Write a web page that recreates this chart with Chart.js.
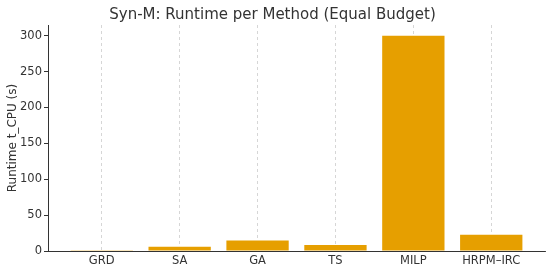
<!DOCTYPE html>
<html>
<head>
<meta charset="utf-8">
<script src="https://cdn.jsdelivr.net/npm/chart.js@4.4.0/dist/chart.umd.min.js"></script>
<style>
  html, body { margin: 0; padding: 0; background: #fff; }
  #wrap { width: 550px; height: 271px; }
</style>
</head>
<body>
<div id="wrap"><canvas id="runtimeChart" width="550" height="271"></canvas></div>
<script>
// データ
const methods = ['GRD', 'SA', 'GA', 'TS', 'MILP', 'HRPM\u2013IRC'];
const runtimes = [0.2, 6, 14.5, 8.5, 300, 22.5];
const yTicks = [0, 50, 100, 150, 200, 250, 300];

const FONT = '"DejaVu Sans", sans-serif';

const ctx = document.getElementById('runtimeChart').getContext('2d');
new Chart(ctx, {
    type: 'bar',
    data: {
        datasets: [{
            data: runtimes.map((v, i) => ({ x: i, y: v })),
            backgroundColor: '#e69f00',
            borderWidth: 0,
            categoryPercentage: 1.0,
            barPercentage: 0.8
        }]
    },
    options: {
        responsive: false,
        animation: false,
        layout: { padding: { left: 0, right: 5, top: 0, bottom: 0 } },
        plugins: {
            legend: { display: false },
            tooltip: { enabled: false },
            title: {
                display: true,
                text: 'Syn-M: Runtime per Method (Equal Budget)',
                color: '#333',
                font: { family: FONT, size: 15, weight: 'normal' },
                padding: { top: 6, bottom: 1 }
            }
        },
        scales: {
            x: {
                type: 'linear',
                min: -0.69,
                max: 5.69,
                offset: false,
                z: 1,
                afterBuildTicks: (axis) => {
                    axis.ticks = methods.map((m, i) => ({ value: i }));
                },
                afterFit: (axis) => { axis.height = 20; },
                ticks: {
                    color: '#333',
                    font: { family: FONT, size: 11.5 },
                    padding: 3,
                    maxRotation: 0,
                    callback: (v) => methods[v]
                },
                grid: {
                    offset: false,
                    color: '#cccccc',
                    lineWidth: 0.8,
                    drawTicks: false
                },
                border: { display: true, color: '#333', width: 1, dash: [3, 3] }
            },
            y: {
                min: 0,
                max: 315,
                afterBuildTicks: (axis) => {
                    axis.ticks = yTicks.map(v => ({ value: v }));
                },
                afterFit: (axis) => { axis.width = 48; },
                ticks: {
                    color: '#333',
                    font: { family: FONT, size: 11.5 },
                    padding: 2
                },
                grid: {
                    drawOnChartArea: false,
                    drawTicks: true,
                    tickLength: 4,
                    color: '#333'
                },
                border: { display: true, color: '#333', width: 1 },
                title: {
                    display: true,
                    text: 'Runtime t_CPU (s)',
                    color: '#333',
                    font: { family: FONT, size: 12 },
                    padding: { top: 6, bottom: 2 }
                }
            }
        }
    }
});
</script>
</body>
</html>
